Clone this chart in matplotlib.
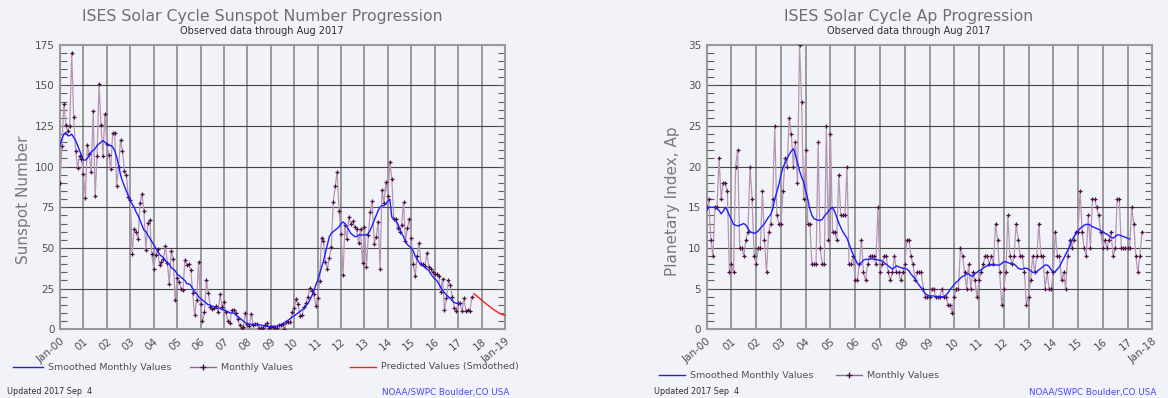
"""
ISES solar cycle progression: sunspot number and Ap index, two panels
"""
import numpy as np
import matplotlib
matplotlib.use('Agg')
import matplotlib.pyplot as plt
from matplotlib.lines import Line2D
from matplotlib.ticker import MultipleLocator

# ---- data (one value per month, starting Jan 2000) ----
ssn_monthly = [
    90.1, 112.9, 138.5, 125.5, 121.6, 124.9, 170.1, 130.5, 109.7, 99.4, 106.8, 104.4,   # 2000
    95.6, 80.6, 113.5, 107.7, 96.6, 134.0, 81.8, 106.4, 150.7, 125.5, 106.5, 132.2,     # 2001
    114.1, 107.4, 98.4, 120.7, 120.8, 88.3, 99.6, 116.4, 109.6, 97.5, 95.0, 81.6,       # 2002
    79.5, 46.2, 61.5, 60.0, 55.2, 77.4, 83.3, 72.7, 48.7, 65.5, 67.3, 46.5,             # 2003
    37.3, 45.8, 49.1, 39.3, 41.5, 43.2, 51.1, 40.9, 27.7, 48.0, 43.5, 17.9,             # 2004
    31.3, 29.2, 24.5, 24.4, 42.6, 39.6, 39.9, 36.4, 22.1, 8.5, 18.0, 41.2,              # 2005
    15.3, 4.9, 10.6, 30.2, 22.3, 13.9, 12.2, 12.9, 14.4, 10.4, 21.5, 13.6,              # 2006
    16.9, 10.6, 4.8, 3.7, 11.7, 12.0, 10.0, 6.2, 2.4, 0.9, 1.7, 10.1,                   # 2007
    3.3, 2.1, 9.3, 2.9, 3.2, 3.4, 0.8, 0.5, 1.1, 2.9, 4.1, 0.8,                         # 2008
    1.5, 1.4, 0.7, 0.8, 2.9, 2.9, 3.2, 0.0, 4.2, 4.6, 4.2, 10.6,                        # 2009
    13.1, 18.6, 15.4, 7.9, 8.8, 13.5, 16.1, 19.6, 25.2, 23.5, 21.6, 14.5,               # 2010
    19.0, 29.4, 56.2, 54.4, 41.6, 37.0, 43.9, 50.6, 78.0, 88.0, 96.7, 73.0,             # 2011
    58.3, 33.1, 64.2, 55.2, 69.0, 64.5, 66.5, 63.0, 61.4, 53.3, 61.8, 40.8,             # 2012
    62.9, 38.1, 57.9, 72.4, 78.7, 52.5, 57.0, 66.0, 37.0, 85.6, 77.6, 90.3,             # 2013
    82.0, 102.8, 92.2, 68.0, 68.0, 62.0, 60.0, 64.0, 78.0, 54.0, 62.0, 68.0,            # 2014
    56.0, 40.0, 33.0, 45.0, 53.0, 40.0, 40.0, 39.0, 47.0, 38.0, 37.0, 35.0,             # 2015
    34.0, 34.0, 33.0, 23.0, 31.0, 12.0, 19.0, 30.0, 27.0, 20.0, 13.0, 11.0,             # 2016
    16.0, 16.0, 11.0, 19.0, 11.0, 12.0, 11.0, 20.0,                                     # 2017
]

ssn_smoothed = [
    113, 117, 120, 121, 119, 119, 120, 118, 116, 113, 110, 107,
    104, 104, 105, 107, 109, 110, 111, 113, 114, 115, 116, 115,
    114, 113, 113, 112, 110, 106, 101, 95, 91, 88, 85, 82,
    79, 77, 75, 72, 70, 67, 64, 61, 60, 58, 56, 54,
    52, 50, 48, 46, 45, 44, 42, 41, 40, 38, 37, 36,
    34, 33, 32, 31, 30, 28, 28, 27, 25, 23, 22, 20,
    19, 18, 17, 16, 15, 15, 14, 14, 13, 13, 13, 12,
    12, 11, 11, 10, 10, 10, 9, 8, 7, 6, 5, 4,
    3.3, 3.2, 3.1, 3.0, 3.0, 2.9, 2.8, 2.6, 2.3, 2.0, 1.8, 1.7,
    1.8, 1.8, 1.9, 2.0, 2.3, 2.8, 3.3, 4.0, 4.8, 5.7, 6.6, 7.6,
    8.3, 9.2, 10.1, 11.0, 11.9, 13.0, 14.4, 16.0, 18.0, 20.5, 23.5, 27,
    30, 34, 38, 42, 47, 52, 57, 59, 60, 61, 62, 63,
    65, 66, 65, 63, 61, 59, 58, 57, 57, 58, 58, 58,
    58, 58, 59, 61, 64, 67, 70, 73, 75, 76, 76, 77,
    79, 80, 69, 68, 67, 65, 62, 59, 57, 54, 52, 51,
    50, 48, 45, 43, 41, 40, 39, 38, 37, 36, 34, 32.5,
    31, 30, 28, 26, 24, 22.5, 21, 20, 19, 17.5, 16.5, 16,
    15.8, 15.5,
]

# predicted smoothed values, Sep 2017 .. Jan 2019
ssn_predicted = [21.9, 21.0, 20.0, 19.0, 18.0, 17.0, 16.0, 15.0, 14.1,
                 13.2, 12.3, 11.5, 10.7, 10.0, 9.4, 8.9, 8.5]
predicted_start = 212  # month index of Sep 2017

ap_monthly = [
    15, 16, 11, 9, 15, 15, 21, 16, 18, 18, 17, 7,     # 2000
    8, 7, 20, 22, 10, 10, 9, 11, 12, 20, 16, 9,       # 2001
    8, 10, 10, 17, 11, 7, 12, 13, 16, 25, 14, 13,     # 2002
    13, 17, 21, 20, 26, 24, 20, 23, 18, 35, 28, 16,   # 2003
    22, 13, 13, 8, 8, 8, 23, 10, 8, 8, 25, 11,        # 2004
    24, 12, 12, 11, 19, 14, 14, 14, 20, 8, 8, 9,      # 2005
    6, 6, 8, 11, 7, 6, 8, 9, 9, 9, 8, 15,             # 2006
    7, 8, 9, 9, 7, 6, 7, 9, 7, 7, 6, 7,               # 2007
    8, 11, 11, 9, 8, 6, 7, 7, 7, 5, 4, 4,             # 2008
    4, 5, 5, 4, 4, 4, 5, 4, 4, 3, 3, 2,               # 2009
    4, 5, 5, 10, 9, 7, 5, 8, 5, 7, 6, 4,              # 2010
    6, 7, 8, 9, 9, 8, 9, 8, 13, 11, 7, 3,             # 2011
    5, 7, 14, 9, 8, 9, 13, 11, 9, 9, 7, 3,            # 2012
    4, 6, 9, 7, 9, 13, 9, 9, 5, 7, 5, 5,              # 2013
    7, 12, 9, 9, 6, 7, 5, 9, 11, 10, 11, 12,          # 2014
    12, 17, 12, 10, 9, 14, 10, 16, 16, 15, 14, 12,    # 2015
    10, 11, 10, 11, 12, 9, 10, 16, 16, 10, 10, 10,    # 2016
    10, 10, 15, 13, 9, 7, 9, 12,                      # 2017
]

ap_smoothed = [
    14.6, 15.0, 15.0, 15.0, 15.0, 14.8, 14.6, 14.2, 14.5, 15.0, 14.6, 14.0,
    13.5, 12.9, 12.8, 12.7, 12.8, 12.9, 13.0, 12.8, 12.4, 12.0, 11.9, 11.8,
    11.9, 12.1, 12.4, 12.7, 13.0, 13.4, 13.8, 14.1, 14.8, 16.0, 16.9, 17.8,
    19.0, 19.9, 20.5, 21.0, 21.5, 21.9, 22.2, 21.5, 20.5, 19.5, 18.7, 18.1,
    17.0, 16.0, 14.8, 14.0, 13.6, 13.5, 13.4, 13.4, 13.5, 13.9, 14.2, 14.5,
    14.8, 15.0, 14.5, 13.8, 13.1, 12.5, 12.0, 11.6, 11.2, 10.5, 9.8, 9.2,
    8.6, 8.1, 7.9, 8.2, 8.5, 8.6, 8.6, 8.6, 8.7, 8.6, 8.6, 8.5,
    8.5, 8.4, 8.2, 8.0, 7.8, 7.6, 7.4, 7.6, 7.8, 7.7, 7.6, 7.5,
    7.5, 7.4, 7.2, 6.8, 6.5, 6.2, 5.8, 5.4, 5.1, 4.7, 4.4, 4.2,
    4.1, 4.1, 4.1, 4.0, 4.0, 4.0, 4.0, 4.0, 4.2, 4.5, 4.9, 5.2,
    5.5, 5.8, 6.0, 6.3, 6.5, 6.6, 6.8, 6.8, 6.6, 6.5, 6.8, 7.0,
    7.2, 7.3, 7.5, 7.7, 7.8, 7.9, 7.9, 7.9, 7.9, 7.9, 7.9, 8.1,
    8.3, 8.3, 8.2, 8.1, 8.1, 8.0, 7.8, 7.5, 7.4, 7.4, 7.5, 7.5,
    7.4, 7.2, 7.0, 7.0, 7.1, 7.3, 7.5, 7.7, 7.9, 7.9, 7.7, 7.3,
    7.0, 7.1, 7.4, 7.7, 8.2, 8.7, 9.2, 9.7, 10.2, 10.9, 11.4, 11.8,
    12.1, 12.4, 12.6, 12.8, 12.9, 12.9, 12.8, 12.6, 12.5, 12.4, 12.3, 12.1,
    12.0, 11.8, 11.7, 11.5, 11.3, 11.2, 11.4, 11.6, 11.6, 11.5, 11.4, 11.3,
    11.2, 11.1,
]

# ---- styling ----
W, H = 1168, 398
BG = '#f2f3f8'
TXT = '#505050'
BLUE = '#1e1eff'
RED = '#ff1e1e'
LINE_M = '#b596b5'
MARK_M = '#4a1046'


def boite(x0, y_haut, x1, y_bas):
    """Rectangle en pixels (origine en haut) -> coordonnees figure"""
    return [x0 / W, 1 - y_bas / H, (x1 - x0) / W, (y_bas - y_haut) / H]


def habiller(ax, n_annees, ymax, majeur, mineur, dernier):
    ax.set_facecolor(BG)
    ax.set_xlim(0, n_annees * 12)
    ax.set_ylim(0, ymax)
    xt = np.arange(0, n_annees * 12 + 1, 12)
    ax.set_xticks(xt)
    etiquettes = ['Jan-00'] + ['%02d' % a for a in range(1, n_annees)] + [dernier]
    ax.set_xticklabels(etiquettes, rotation=40, ha='right', va='top',
                       rotation_mode='anchor', fontsize=7.5, color=TXT)
    ax.yaxis.set_major_locator(MultipleLocator(majeur))
    ax.yaxis.set_minor_locator(MultipleLocator(mineur))
    ax.tick_params(axis='x', length=0, pad=5)
    ax.tick_params(axis='y', which='both', direction='in', left=True, right=True,
                   length=4.7, width=0.8, color='#606060', labelsize=7.5,
                   labelcolor=TXT, pad=4)
    for v in xt[1:-1]:
        ax.axvline(v, color='#9a9a9a', lw=1.4, zorder=1)
    for v in np.arange(majeur, ymax, majeur):
        ax.axhline(v, color='#454545', lw=0.8, zorder=1)
    for s in ax.spines.values():
        s.set_color('#9a9a9a')
        s.set_linewidth(1.5)


fig = plt.figure(figsize=(W / 100, H / 100), dpi=100, facecolor=BG)

# ---- left panel: sunspot number ----
ax1 = fig.add_axes(boite(60, 44.6, 505, 329.3))
habiller(ax1, 19, 175, 25, 5, 'Jan-19')
x_m = np.arange(len(ssn_monthly))
ax1.plot(x_m, ssn_monthly, color=LINE_M, lw=0.9, zorder=3,
         marker='+', ms=3, mew=0.9, mec=MARK_M)
ax1.plot(np.arange(len(ssn_smoothed)), ssn_smoothed, color=BLUE, lw=1.0, zorder=5)
ax1.plot(predicted_start + np.arange(len(ssn_predicted)), ssn_predicted,
         color=RED, lw=1.0, zorder=5, clip_on=False)

# ---- right panel: Ap index ----
ax2 = fig.add_axes(boite(706.7, 44.6, 1152.3, 329.3))
habiller(ax2, 18, 35, 5, 1, 'Jan-18')
x_a = np.arange(len(ap_monthly))
ax2.plot(x_a, ap_monthly, color=LINE_M, lw=0.9, zorder=3,
         marker='+', ms=3, mew=0.9, mec=MARK_M)
ax2.plot(np.arange(len(ap_smoothed)), ap_smoothed, color=BLUE, lw=1.0, zorder=5)

# ---- titles and labels ----
for cx, titre in [(262, 'ISES Solar Cycle Sunspot Number Progression'),
                  (909, 'ISES Solar Cycle Ap Progression')]:
    fig.text(cx / W, 1 - 17 / H, titre, ha='center', va='center',
             fontsize=11.3, color='#707070')
    fig.text(cx / W, 1 - 30.5 / H, 'Observed data through Aug 2017', ha='center',
             va='center', fontsize=7, color='#303030')

fig.text(24 / W, 1 - 200 / H, 'Sunspot Number', rotation=90, ha='center',
         va='center', fontsize=11, color='#7a7a7a')
fig.text(672 / W, 1 - 201 / H, 'Planetary Index, Ap', rotation=90, ha='center',
         va='center', fontsize=11, color='#7a7a7a')


# ---- legends (drawn by hand, like the original) ----
def cle(x0, x1, y, couleur, texte, marque=False):
    yf = 1 - y / H
    fig.add_artist(Line2D([x0 / W, x1 / W], [yf, yf], color=couleur, lw=1.0,
                          transform=fig.transFigure))
    if marque:
        fig.add_artist(Line2D([(x0 + x1) / 2 / W], [yf], marker='+', ms=4, mew=1,
                              color=MARK_M, transform=fig.transFigure))
    fig.text((x1 + 5) / W, yf, texte, ha='left', va='center', fontsize=6.8, color=TXT)


cle(13, 43, 367, BLUE, 'Smoothed Monthly Values')
cle(190, 216, 367, '#8a6a8a', 'Monthly Values', marque=True)
cle(350, 376, 367, RED, 'Predicted Values (Smoothed)')
cle(659, 685, 375, BLUE, 'Smoothed Monthly Values')
cle(836, 862, 375, '#8a6a8a', 'Monthly Values', marque=True)

for x_upd, x_noaa in [(7, 382), (654, 1029)]:
    fig.text(x_upd / W, 1 - 392 / H, 'Updated 2017 Sep  4', ha='left', va='center',
             fontsize=5.8, color='#303030')
    fig.text(x_noaa / W, 1 - 392 / H, 'NOAA/SWPC Boulder,CO USA', ha='left',
             va='center', fontsize=6.3, color='#4848ff')

fig.savefig('out.png', dpi=100, facecolor=BG)
